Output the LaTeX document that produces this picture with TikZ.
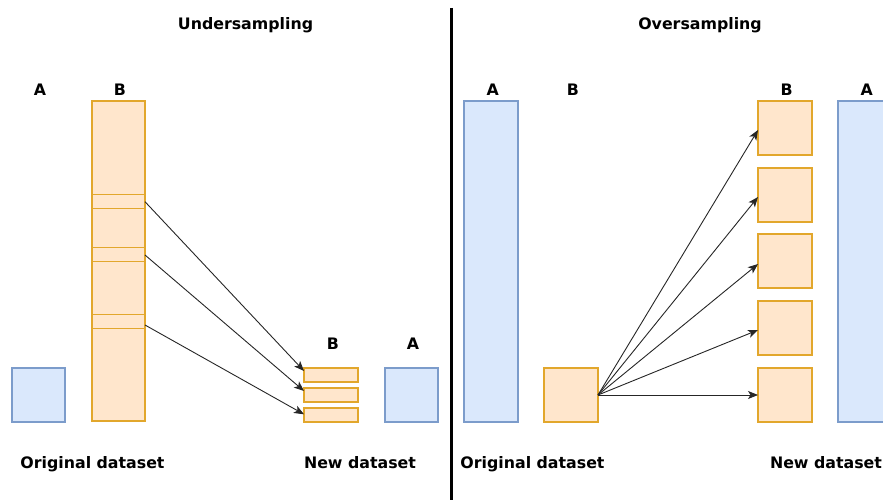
\documentclass[tikz,border=0pt]{standalone}
\usepackage{fontspec}
\setmainfont{DejaVu Sans}
\usetikzlibrary{arrows.meta,calc}
\definecolor{bfill}{HTML}{DAE8FC}
\definecolor{bdraw}{HTML}{7C9CCB}
\definecolor{ofill}{HTML}{FFE6CC}
\definecolor{odraw}{HTML}{E2A72C}
\tikzset{
  bluebox/.style={draw=bdraw, fill=bfill, line width=1.3pt, inner sep=0pt, outer sep=0pt},
  orbox/.style={draw=odraw, fill=ofill, line width=1.3pt, inner sep=0pt, outer sep=0pt},
  slice/.style={orbox, line width=1.8pt},
  lbl/.style={font=\fontsize{15.8}{18}\selectfont\bfseries, anchor=base, inner sep=0pt},
  conn/.style={draw=black!85, line width=0.9pt, -{Stealth[length=10pt,width=8pt,inset=2.5pt]}},
}
\begin{document}
\begin{tikzpicture}[x=1pt,y=-1pt]
\useasboundingbox (0,0) rectangle (883,500);
% ---------- left panel ----------
\node[lbl] (t1) at (245.5,29.3) {Undersampling};
\node[lbl] (la1) at (40,95.7) {A};
\node[lbl] (lb1) at (120,95.7) {B};
\node[bluebox, minimum width=53pt, minimum height=54pt] (lA) at (38.5,395) {};
\node[orbox, minimum width=53pt, minimum height=320pt] (lB) at (118.5,261) {};
\node[slice, minimum width=53pt, minimum height=14pt] (s1) at (118.5,201.5) {};
\node[slice, minimum width=53pt, minimum height=14pt] (s2) at (118.5,254.5) {};
\node[slice, minimum width=53pt, minimum height=14pt] (s3) at (118.5,321.5) {};
\node[lbl] (lb2) at (333,349) {B};
\node[lbl] (la2) at (413,349) {A};
\node[orbox, minimum width=54pt, minimum height=14pt] (n1) at (331,375) {};
\node[orbox, minimum width=54pt, minimum height=14pt] (n2) at (331,395) {};
\node[orbox, minimum width=54pt, minimum height=14pt] (n3) at (331,415) {};
\node[bluebox, minimum width=53pt, minimum height=54pt] (nA) at (411.5,395) {};
\draw[conn] ($(s1.east)+(0,0.2)$) -- ($(n1.west)+(0,-4)$);
\draw[conn] ($(s2.east)+(0,0.5)$) -- ($(n2.west)+(0,-4)$);
\draw[conn] ($(s3.east)+(0,3.5)$) -- ($(n3.west)+(0,-0.7)$);
\node[lbl] (o1) at (92.5,468.3) {Original dataset};
\node[lbl] (nd1) at (360,468.3) {New dataset};
% ---------- divider ----------
\coordinate (d1) at (451,8);
\coordinate (d2) at (451,500);
\draw[line width=3pt, black] (d1) -- (d2);
% ---------- right panel ----------
\node[lbl] (t2) at (700,29.3) {Oversampling};
\node[lbl] (ra1) at (492.7,95.7) {A};
\node[lbl] (rb1) at (573,95.7) {B};
\node[lbl] (rb2) at (786.7,95.7) {B};
\node[lbl] (ra2) at (866.7,95.7) {A};
\node[bluebox, minimum width=54pt, minimum height=321pt] (rA) at (491,261.5) {};
\node[orbox, minimum width=54pt, minimum height=54pt] (rB) at (571,395) {};
\node[orbox, minimum width=54pt, minimum height=54pt] (m1) at (785,128) {};
\node[orbox, minimum width=54pt, minimum height=54pt] (m2) at (785,195) {};
\node[orbox, minimum width=54pt, minimum height=54pt] (m3) at (785,261) {};
\node[orbox, minimum width=54pt, minimum height=54pt] (m4) at (785,328) {};
\node[orbox, minimum width=54pt, minimum height=54pt] (m5) at (785,395) {};
\node[bluebox, minimum width=54pt, minimum height=321pt] (rA2) at (865,261.5) {};
\foreach \m/\o in {m1/2,m2/2,m3/3,m4/2,m5/0}{
  \draw[conn] (rB.east) -- ($(\m.west)+(0,\o)$);
}
\node[lbl] (o2) at (532.5,468.3) {Original dataset};
\node[lbl] (nd2) at (826,468.3) {New dataset};
\end{tikzpicture}
\end{document}
